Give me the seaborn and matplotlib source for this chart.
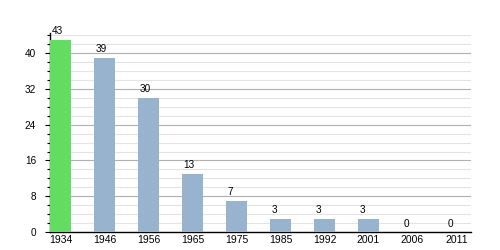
import matplotlib
matplotlib.use("Agg")
import matplotlib.pyplot as plt
import seaborn as sns
import pandas as pd
from matplotlib.ticker import MultipleLocator

years = ["1934", "1946", "1956", "1965", "1975", "1985", "1992", "2001", "2006", "2011"]
values = [43, 39, 30, 13, 7, 3, 3, 3, 0, 0]
colors = ["#62dd62"] + ["#98b3cd"] * 9

sns.set_theme(style="white")
plt.rcParams['font.family'] = ['Liberation Sans', 'DejaVu Sans']

df = pd.DataFrame({"year": years, "value": values})
fig = plt.figure(figsize=(5, 2.5), dpi=100)
ax = fig.add_axes([0.1, 0.072, 0.842, 0.796])

bar_w = 0.48
sns.barplot(data=df, x="year", y="value", hue="year", palette=colors, legend=False,
            width=bar_w, ax=ax, saturation=1, linewidth=0, zorder=3)

ax.set_ylim(0, 44.5)
ax.set_xlim(-0.24, 9.33)
ax.yaxis.set_major_locator(MultipleLocator(8))
ax.yaxis.set_minor_locator(MultipleLocator(2))
ax.grid(which="major", axis="y", color="#b0b0b0", linewidth=0.8, zorder=0)
ax.grid(which="minor", axis="y", color="#e3e3e3", linewidth=0.8, zorder=0)
ax.set_axisbelow(True)
for s in ["top", "right"]:
    ax.spines[s].set_visible(False)
ax.spines["left"].set_color("black")
ax.spines["bottom"].set_color("black")
ax.spines["left"].set_linewidth(1)
ax.spines["bottom"].set_linewidth(1)
ax.tick_params(axis="y", which="major", left=True, length=3.5, width=0.8, color="black",
               labelsize=7.2, pad=6.5, labelcolor="black")
ax.tick_params(axis="y", which="minor", left=True, length=2, width=0.8, color="black")
ax.tick_params(axis="x", bottom=False, length=0, labelsize=7.5, pad=2.5, labelcolor="black")
ax.set_xlabel("")
ax.set_ylabel("")

for i, v in enumerate(values):
    ax.text(i - bar_w / 2 + 0.03, v + 1.2, str(v), ha="left", va="baseline",
            fontsize=7.2, color="black")

fig.savefig("out.png", dpi=100)
